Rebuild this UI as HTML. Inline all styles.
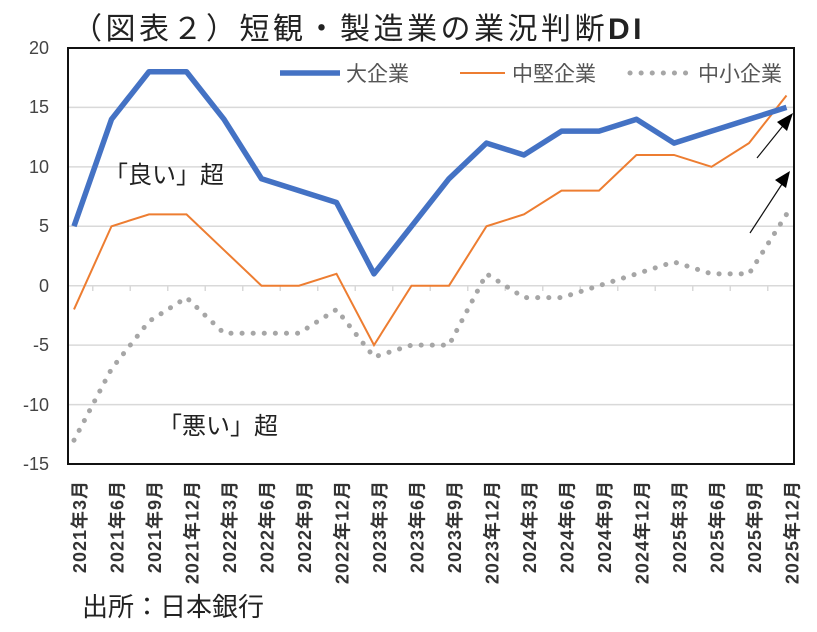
<!DOCTYPE html>
<html><head><meta charset="utf-8"><style>
body{margin:0;background:#fff;}
svg text{font-family:"Liberation Sans","Noto Sans CJK JP",sans-serif;}
</style></head><body>
<svg width="817" height="627" viewBox="0 0 817 627" xmlns="http://www.w3.org/2000/svg">
<rect width="817" height="627" fill="#fff"/>
<text x="72" y="39" font-size="30" letter-spacing="3.5" fill="#222">（図表２）短観・製造業の業況判断<tspan font-weight="bold">DI</tspan></text>
<g stroke="#d9d9d9" stroke-width="1.5">
<line x1="68" x2="794" y1="107.4" y2="107.4"/>
<line x1="68" x2="794" y1="166.9" y2="166.9"/>
<line x1="68" x2="794" y1="226.3" y2="226.3"/>
<line x1="68" x2="794" y1="345.1" y2="345.1"/>
<line x1="68" x2="794" y1="404.6" y2="404.6"/>
<line x1="68" x2="794" y1="285.7" y2="285.7"/>
</g>
<g stroke="#d9d9d9" stroke-width="1.5" id="ticks"></g>
<rect x="68" y="48" width="726" height="416" fill="none" stroke="#111" stroke-width="2"/>
<g font-size="18" fill="#444" text-anchor="end">
<text x="49" y="54">20</text><text x="49" y="113">15</text><text x="49" y="173">10</text>
<text x="49" y="232">5</text><text x="49" y="292">0</text><text x="49" y="351">-5</text>
<text x="49" y="411">-10</text><text x="49" y="470">-15</text>
</g>
<g id="xl" font-size="18" font-weight="bold" fill="#333" text-anchor="end" letter-spacing="1"></g>
<polyline id="s3" fill="none" stroke="#a6a6a6" stroke-width="5" stroke-dasharray="0.1 11" stroke-linecap="round"/>
<polyline id="s2" fill="none" stroke="#ed7d31" stroke-width="2"/>
<polyline id="s1" fill="none" stroke="#4472c4" stroke-width="5.5" stroke-linejoin="round"/>
<line x1="280" y1="73" x2="340" y2="73" stroke="#4472c4" stroke-width="5.5"/>
<text x="346" y="81" font-size="21" fill="#555">大企業</text>
<line x1="460" y1="73" x2="505" y2="73" stroke="#ed7d31" stroke-width="2"/>
<text x="512" y="81" font-size="21" fill="#555">中堅企業</text>
<line x1="630" y1="73" x2="690" y2="73" stroke="#a6a6a6" stroke-width="5" stroke-dasharray="0.1 11" stroke-linecap="round"/>
<text x="698" y="81" font-size="21" fill="#555">中小企業</text>
<text x="104" y="183" font-size="24" fill="#222">「良い」超</text>
<text x="158" y="434" font-size="24" fill="#222">「悪い」超</text>
<line x1="757" y1="158" x2="786" y2="122" stroke="#111" stroke-width="1.2"/>
<polygon points="793,113 777,122 787,131" fill="#000"/>
<line x1="750" y1="233" x2="784" y2="181" stroke="#111" stroke-width="1.2"/>
<polygon points="790,171 775,180 786,188" fill="#000"/>
<text x="82" y="616" font-size="26" fill="#222">出所：日本銀行</text>
</svg>
<script>
const x0=74,dx=37.5,zy=285.7,k=11.886;
const a=[5,14,18,18,14,9,8,7,1,5,9,12,11,13,13,14,12,13,14,15];
const b=[-2,5,6,6,3,0,0,1,-5,0,0,5,6,8,8,11,11,10,12,16];
const c=[-13,-7,-3,-1,-4,-4,-4,-2,-6,-5,-5,1,-1,-1,0,1,2,1,1,6];
const pts=d=>d.map((v,i)=>(x0+i*dx)+","+(zy-v*k)).join(" ");
document.getElementById("s1").setAttribute("points",pts(a));
document.getElementById("s2").setAttribute("points",pts(b));
document.getElementById("s3").setAttribute("points",pts(c));
const ns="http://www.w3.org/2000/svg";
const xl=document.getElementById("xl"),tk=document.getElementById("ticks");
const m=[3,6,9,12];
for(let i=0;i<20;i++){
 const y=2021+Math.floor(i/4),mo=m[i%4];
 const t=document.createElementNS(ns,"text");
 const x=x0+i*dx+12;
 t.setAttribute("transform",`translate(${x},480) rotate(-90)`);
 t.textContent=y+"年"+mo+"月";xl.appendChild(t);
 const l=document.createElementNS(ns,"line");
 const tx=x0+i*dx+18.75;
 if(i<19){l.setAttribute("x1",tx);l.setAttribute("x2",tx);l.setAttribute("y1",285.7);l.setAttribute("y2",291);tk.appendChild(l);}
}
</script>
</body></html>
